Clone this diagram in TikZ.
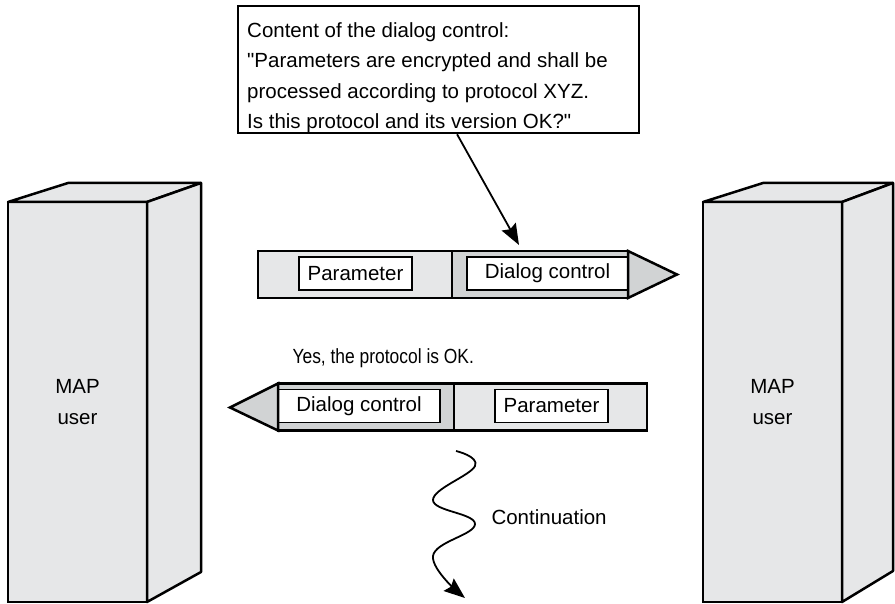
\documentclass[tikz,border=0pt]{standalone}
\usepackage{fontspec}
\setmainfont{Liberation Sans}
\newfontfamily\narrowfont{Liberation Sans}[FakeStretch=0.85]
\usepackage{xcolor}
\usetikzlibrary{positioning, calc, arrows.meta}
\definecolor{boxgray}{HTML}{E6E7E8}
\definecolor{ctrlgray}{HTML}{D1D3D4}

\begin{document}
\begin{tikzpicture}[x=1pt, y=-1pt,
    txt/.style={font=\fontsize{20.5}{30.5}\selectfont},
    front/.style={draw, line width=2.5pt, fill=boxgray, minimum width=139pt, minimum height=400pt,
                  align=center, txt, inner sep=0pt, outer sep=0pt},
    face/.style={draw, line width=2.5pt, fill=boxgray, line join=round},
    part/.style={draw, line width=2.5pt, minimum height=47pt, outer sep=0pt, inner sep=0pt},
    field/.style={draw, line width=1.5pt, fill=white, minimum height=33pt, inner sep=0pt,
                  outer sep=0pt, txt},
    tip/.style={draw, line width=2.5pt, fill=ctrlgray, line join=miter},
    arr/.style={line width=1.8pt, -{Stealth[length=21pt, width=16pt, inset=3pt]}},
  ]
  \useasboundingbox (0,0) rectangle (895,604);

  % --- MAP users ---
  \node[front] (lusr) at (77.5,402) {MAP\\user};
  \draw[face] (lusr.north west) -- (68,183) -- (201,183) -- (lusr.north east) -- cycle;
  \draw[face] (lusr.north east) -- (201,183) -- (201,572) -- (lusr.south east) -- cycle;

  \node[front] (rusr) at (772.5,402) {MAP\\user};
  \draw[face] (rusr.north west) -- (763,183) -- (893,183) -- (rusr.north east) -- cycle;
  \draw[face] (rusr.north east) -- (893,183) -- (893,571) -- (rusr.south east) -- cycle;

  % --- request ---
  \node[part, fill=boxgray, minimum width=194pt]  (par1) at (355,274.5) {};
  \node[part, fill=ctrlgray, minimum width=176pt] (dlg1) at (540,274.5) {};
  \node[field, minimum width=113pt] (pf1) at (355.5,273.5) {Parameter};
  \node[field, minimum width=161pt, anchor=east] (df1) at (dlg1.east |- pf1) {Dialog control};
  \draw[tip] (dlg1.north east) -- ++(49,23.5) -- (dlg1.south east) -- cycle;

  % --- reply ---
  \node[part, fill=ctrlgray, minimum width=176pt] (dlg2) at (366,407) {};
  \node[part, fill=boxgray, minimum width=193pt]  (par2) at (550.5,407) {};
  \node[field, minimum width=162pt, anchor=west] (df2) at (dlg2.west |- 0,406) {Dialog control};
  \node[field, minimum width=113pt] (pf2) at (551.5,406) {Parameter};
  \draw[tip] (dlg2.north west) -- ++(-48,24) -- (dlg2.south west) -- cycle;
  \node[txt, anchor=west] (ok) at (289,358) {\narrowfont Yes, the protocol is OK.};

  % --- callout ---
  \node[draw, line width=2.5pt, fill=white, minimum width=401pt, minimum height=127pt] (note) at (438.5,69.5) {};
  \node[txt, align=left, anchor=north west, inner sep=0pt] (notetxt) at (247,22)
    {Content of the dialog control:\\
     \textquotedbl Parameters are encrypted and shall be\\
     processed according to protocol XYZ.\\
     Is this protocol and its version OK?\textquotedbl};
  \coordinate (hit) at (519,245);
  \draw[arr] ($(note.south west)!0.546!(note.south east)$) -- (hit);

  % --- continuation ---
  \coordinate (wtop) at (456,451);
  \coordinate (wbot) at (465,598);
  \draw[arr] plot[smooth, tension=0.7] coordinates
    {(wtop) (475,466) (433,500) (475,524) (433,556) (wbot)};
  \node[txt, anchor=west] (cont) at (488,517) {Continuation};

\end{tikzpicture}
\end{document}
